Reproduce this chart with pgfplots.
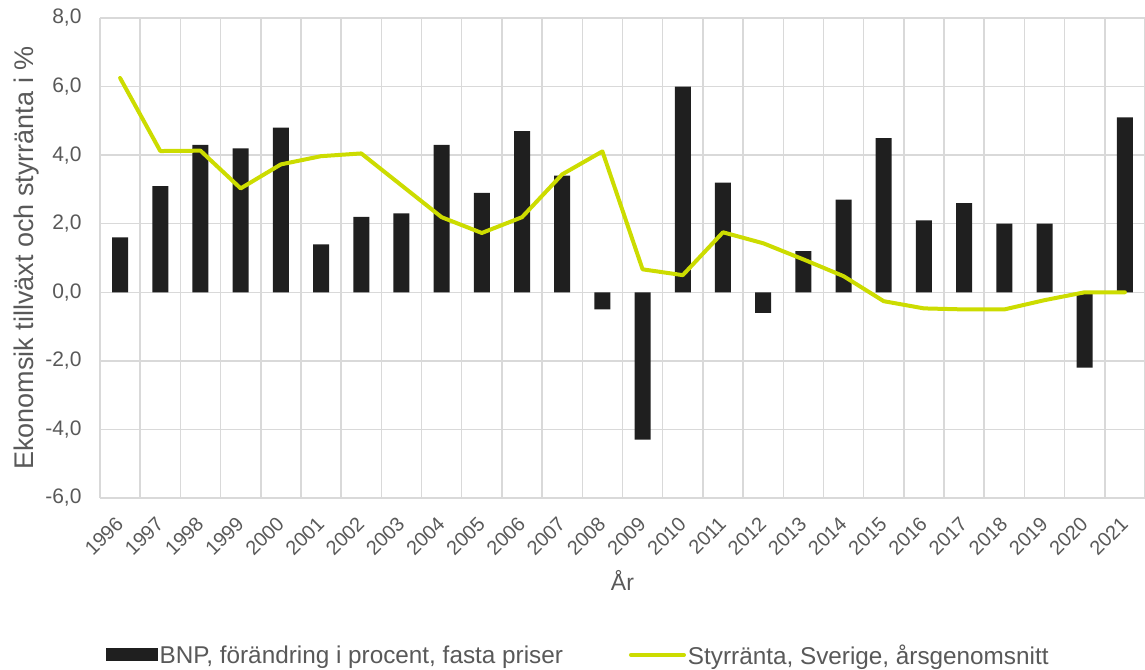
\documentclass[border=0pt]{standalone}
\usepackage{pgfplots}
\pgfplotsset{compat=1.18}
\usepackage{fontspec}
\setmainfont{Liberation Sans}
\definecolor{txt}{HTML}{595959}
\definecolor{gridc}{HTML}{D9D9D9}
\definecolor{barc}{HTML}{1F1F1F}
\definecolor{linec}{HTML}{CCDC00}

% Year, GDP change (%), policy rate annual average (%)
\begin{document}
\begin{tikzpicture}
\useasboundingbox (0,0) rectangle (1145pt,669pt);
\begin{axis}[
  at={(100pt,171pt)}, anchor=south west,
  scale only axis, width=1045pt, height=480pt,
  xmin=-0.5, xmax=25.5, ymin=-6, ymax=8,
  ytick={-6,-4,...,8},
  xtick={0,...,25},
  xticklabels={1996,1997,1998,1999,2000,2001,2002,2003,2004,2005,2006,2007,2008,2009,2010,2011,2012,2013,2014,2015,2016,2017,2018,2019,2020,2021},
  minor xtick={-0.5,0.5,...,25.5},
  xminorgrids=true, ymajorgrids=true,
  grid style={gridc, line width=1.5pt},
  minor grid style={gridc, line width=1.5pt},
  major tick length=0pt, minor tick length=0pt,
  axis line style={draw=none},
  tick label style={text=txt},
  xticklabel style={font=\fontsize{20}{24}\selectfont, xshift=2pt, yshift=-20pt, rotate=45, anchor=east},
  yticklabel style={font=\fontsize{21}{25}\selectfont, xshift=-15pt},
  /pgf/number format/.cd, fixed, fixed zerofill, precision=1, use comma, assume math mode=true,
  /pgfplots/.cd,
  xlabel={År},
  xlabel style={font=\fontsize{23}{27}\selectfont, text=txt, yshift=-5pt},
  ylabel={Ekonomsik tillväxt och styrränta i \%},
  ylabel style={font=\fontsize{27}{31}\selectfont, text=txt, yshift=-1pt},
  legend columns=2,
  legend style={at={(axis description cs:0.4575,-0.327)}, anchor=center, draw=none,
    font=\fontsize{24.3}{28}\selectfont, text=txt,
    /tikz/every even column/.append style={column sep=64pt}},
  legend cell align=left,
]
\addplot[ybar, bar width=16pt, fill=barc, draw=none,
  legend image code/.code={\fill[barc] (0pt,-6.5pt) rectangle (52pt,6.5pt);}]
  coordinates {
  (0,1.6) (1,3.1) (2,4.3) (3,4.2) (4,4.8) (5,1.4) (6,2.2) (7,2.3) (8,4.3) (9,2.9)
  (10,4.7) (11,3.4) (12,-0.5) (13,-4.3) (14,6.0) (15,3.2) (16,-0.6) (17,1.2) (18,2.7)
  (19,4.5) (20,2.1) (21,2.6) (22,2.0) (23,2.0) (24,-2.2) (25,5.1)};
\addlegendentry{BNP, förändring i procent, fasta priser}
\addplot[linec, line width=4pt, line join=round, line cap=round,
  legend image code/.code={\draw[linec, line width=4pt, line cap=round] (2pt,0pt) -- (55pt,0pt);}]
  coordinates {
  (0,6.25) (1,4.12) (2,4.13) (3,3.03) (4,3.73) (5,3.97) (6,4.05) (7,3.12) (8,2.19)
  (9,1.73) (10,2.19) (11,3.44) (12,4.11) (13,0.67) (14,0.50) (15,1.75) (16,1.43)
  (17,0.96) (18,0.47) (19,-0.26) (20,-0.47) (21,-0.50) (22,-0.50) (23,-0.23) (24,0.0) (25,0.0)};
\addlegendentry{Styrränta, Sverige, årsgenomsnitt}
\end{axis}
\end{tikzpicture}
\end{document}
